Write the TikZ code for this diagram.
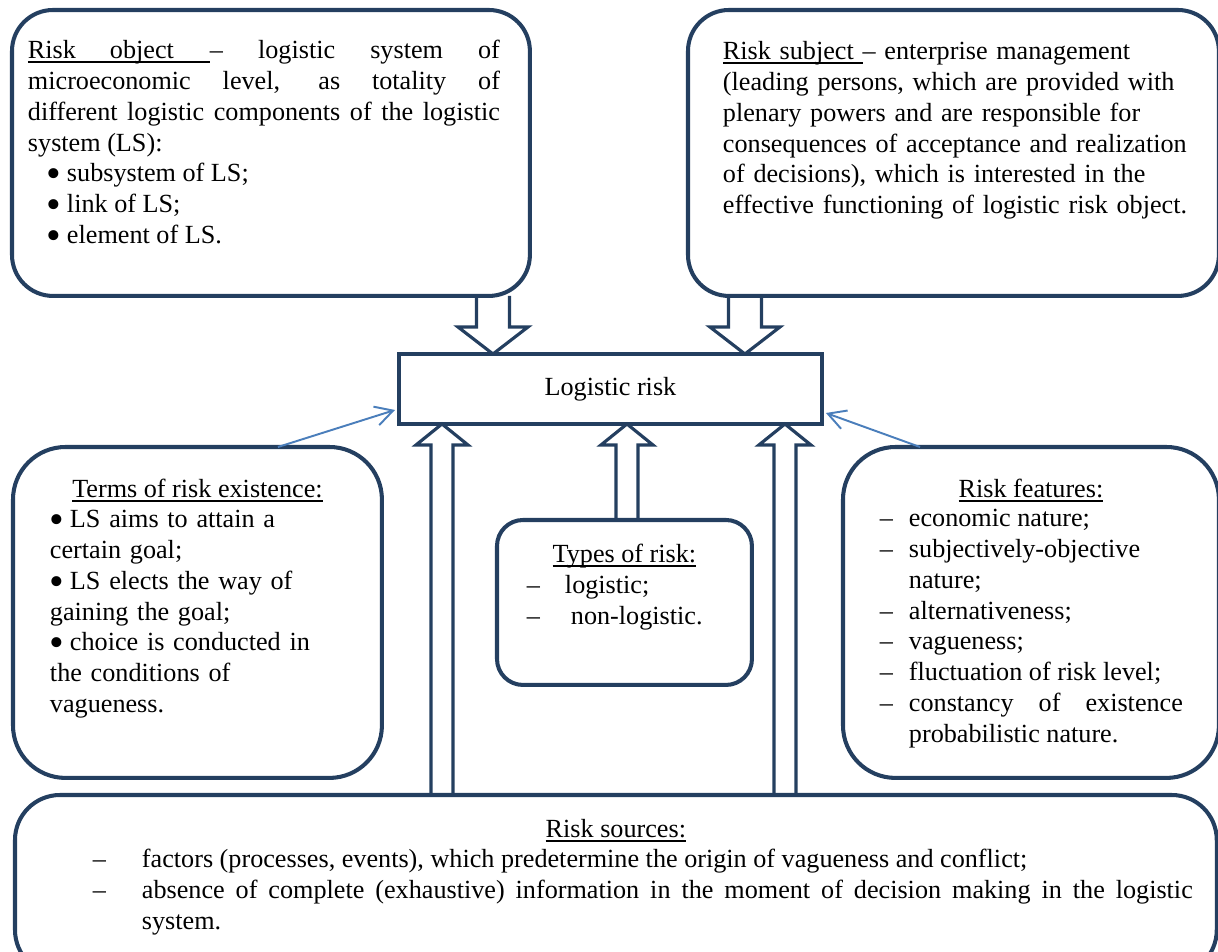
\documentclass[tikz,border=0pt]{standalone}
\usepackage{fontspec}
\setmainfont{Liberation Serif}
\usetikzlibrary{positioning,calc,arrows.meta}

\definecolor{navy}{HTML}{243F60}
\definecolor{lineblue}{HTML}{4A7EBB}
\setlength{\parindent}{0pt}

\newcommand{\bodyfont}{\fontsize{14.9}{17.5}\selectfont}
% word-style underline, close under the baseline
\newsavebox{\ulinebox}
\newcommand{\uln}[1]{\sbox{\ulinebox}{#1}\rlap{\rule[-2.2pt]{\wd\ulinebox}{0.9pt}}\usebox{\ulinebox}}
% big list bullet in a box of given width
\newcommand{\bul}[1]{\makebox[#1][l]{\smash{\raisebox{-0.22em}{\scalebox{1.6}{\textbullet}}}}}
% hollow block arrows: #1 tail, #2 tip
\newcommand{\downblock}[2]{%
  \draw[blockarr] let \p1=(#1), \p2=(#2) in
    (\x2-0.33cm,\y1) -- (\x2-0.33cm,\y2+0.54cm) -- (\x2-0.7cm,\y2+0.54cm) -- (\x2,\y2)
    -- (\x2+0.7cm,\y2+0.54cm) -- (\x2+0.33cm,\y2+0.54cm) -- (\x2+0.33cm,\y1);}
\newcommand{\upblock}[2]{%
  \draw[blockarr] let \p1=(#1), \p2=(#2) in
    (\x2-0.22cm,\y1) -- (\x2-0.22cm,\y2-0.42cm) -- (\x2-0.52cm,\y2-0.42cm) -- (\x2,\y2)
    -- (\x2+0.52cm,\y2-0.42cm) -- (\x2+0.22cm,\y2-0.42cm) -- (\x2+0.22cm,\y1);}

\begin{document}
\begin{tikzpicture}[x=0.02cm, y=-0.02cm,
    panel/.style={draw=navy, line width=2.3pt, rounded corners=0.82cm, inner sep=0pt, outer sep=0pt, anchor=north west},
    txt/.style={inner sep=0pt, outer sep=0pt, font=\bodyfont},
    blockarr/.style={draw=navy, line width=1.8pt, line join=miter},
    thinarr/.style={draw=lineblue, line width=1.1pt, -{Straight Barb[length=10pt,width=11pt]}}]
    \clip (0,0) rectangle (1218,952);

    % boxes
    \node[panel, minimum width=10.36cm, minimum height=5.72cm] (objbox) at (12,10) {};
    \node[panel, minimum width=10.62cm, minimum height=5.72cm] (subjbox) at (688,10) {};
    \node[panel, rounded corners=0pt, minimum width=8.46cm, minimum height=1.4cm, font=\bodyfont] (lrisk) at (399,354) {Logistic risk};
    \node[panel, rounded corners=1.05cm, minimum width=7.38cm, minimum height=6.62cm] (termbox) at (13,447) {};
    \node[panel, rounded corners=0.52cm, minimum width=5.1cm, minimum height=3.3cm] (typebox) at (497,520) {};
    \node[panel, rounded corners=1.05cm, minimum width=7.52cm, minimum height=6.62cm] (featbox) at (843,447) {};
    \node[panel, rounded corners=0.9cm, minimum width=24.04cm, minimum height=3.6cm] (srcbox) at (15,795) {};

    % texts
    \node[txt, text width=9.44cm, align=justify, anchor=base west] (objtxt) at ([xshift=0.32cm,yshift=-0.98cm]objbox.north west) {%
        \uln{\makebox[3.64cm][l]{Risk\hspace{0.68cm}object}}– logistic system of\linebreak
        microeconomic level, as totality of\linebreak
        different logistic components of the logistic\linebreak
        system (LS):\par
        \hspace*{0.37cm}\bul{0.41cm}subsystem of LS;\par
        \hspace*{0.37cm}\bul{0.41cm}link of LS;\par
        \hspace*{0.37cm}\bul{0.41cm}element of LS.};
    \node[txt, text width=9.8cm, align=left, anchor=base west] (subjtxt) at ([xshift=0.7cm,yshift=-1.0cm]subjbox.north west) {%
        \uln{Risk subject\ }– enterprise management\\
        (leading persons, which are provided with\\
        plenary powers and are responsible for\\
        consequences of acceptance and realization\\
        of decisions), which is interested in the\\
        effective functioning of logistic risk object.};
    \node[txt, anchor=base] (termhead) at ([yshift=-1.02cm]termbox.north) {\uln{Terms of risk existence:}};
    \node[txt, text width=6.2cm, align=left, anchor=base west] (termlist) at ([xshift=0.74cm,yshift=-1.62cm]termbox.north west) {%
        \bul{0.4cm}LS aims to attain a\\
        certain goal;\\
        \bul{0.4cm}LS elects the way of\\
        gaining the goal;\\
        \bul{0.4cm}choice is conducted in\\
        the conditions of\\
        vagueness.};
    \node[txt, anchor=base] (typehead) at ([yshift=-0.86cm]typebox.north) {\uln{Types of risk:}};
    \node[txt, text width=4cm, align=left, anchor=base west] (typelist) at ([xshift=0.6cm,yshift=-1.48cm]typebox.north west) {%
        \makebox[0.76cm][l]{–}logistic;\\
        \makebox[0.76cm][l]{–}\hspace{0.12cm}non-logistic.};
    \node[txt, anchor=base] (feathead) at ([yshift=-1.02cm]featbox.north) {\uln{Risk features:}};
    \node[txt, text width=6.06cm, align=justify, anchor=base west] (featlist) at ([xshift=0.74cm,yshift=-1.6cm]featbox.north west) {%
        \makebox[0.58cm][l]{–}economic nature;\par
        \makebox[0.58cm][l]{–}subjectively-objective\par
        \hspace*{0.58cm}nature;\par
        \makebox[0.58cm][l]{–}alternativeness;\par
        \makebox[0.58cm][l]{–}vagueness;\par
        \makebox[0.58cm][l]{–}fluctuation of risk level;\par
        \makebox[0.58cm][l]{–}constancy of existence\linebreak
        \hspace*{0.58cm}probabilistic nature.};
    \node[txt, anchor=base] (srchead) at ([yshift=-0.86cm]srcbox.north) {\uln{Risk sources:}};
    \node[txt, text width=22cm, align=justify, anchor=base west] (srclist) at ([xshift=1.56cm,yshift=-1.46cm]srcbox.north west) {%
        \makebox[0.98cm][l]{–}factors (processes, events), which predetermine the origin of vagueness and conflict;\par
        \makebox[0.98cm][l]{–}absence of complete (exhaustive) information in the moment of decision making in the logistic\linebreak
        \hspace*{0.98cm}system.};

    % block arrows
    \coordinate (tipA) at ([xshift=-2.35cm]lrisk.north);
    \coordinate (tipB) at ([xshift=2.69cm]lrisk.north);
    \coordinate (tipC) at ([xshift=0.86cm]lrisk.south west);
    \coordinate (tipD) at ([xshift=0.33cm]lrisk.south);
    \coordinate (tipE) at ([xshift=-0.74cm]lrisk.south east);
    \downblock{tipA |- objbox.south}{tipA}
    \downblock{tipB |- subjbox.south}{tipB}
    \upblock{tipC |- srcbox.north}{tipC}
    \upblock{tipD |- typebox.north}{tipD}
    \upblock{tipE |- srcbox.north}{tipE}

    % thin arrows
    \draw[thinarr] ([xshift=-2.08cm]termbox.north east) -- ([xshift=-0.08cm,yshift=-0.42cm]lrisk.west);
    \draw[thinarr] ([xshift=1.54cm]featbox.north west) -- ([xshift=0.08cm,yshift=-0.48cm]lrisk.east);
\end{tikzpicture}
\end{document}
